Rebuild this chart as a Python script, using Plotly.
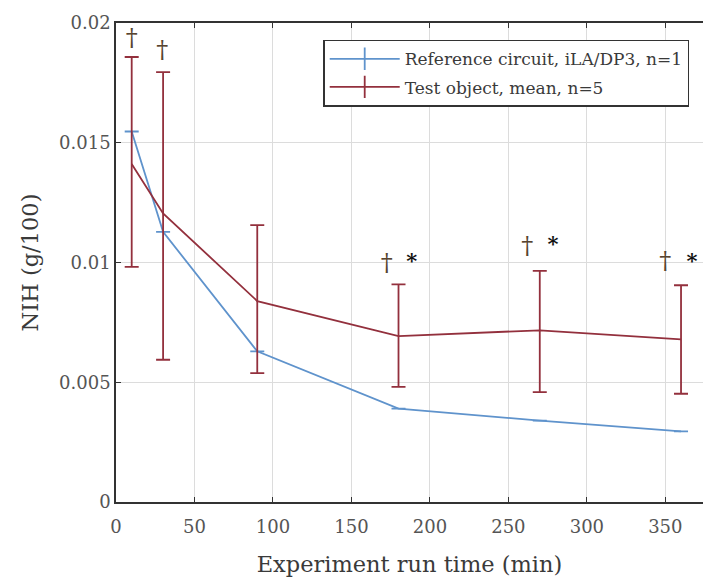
import plotly.graph_objects as go

# Reference circuit (n=1)
ref_x = [10, 30, 90, 180, 270, 360]
ref_y = [0.01547, 0.01128, 0.00629, 0.00390, 0.00340, 0.00295]

# Test object mean (n=5) with asymmetric error bars
test_x = [10, 30, 90, 180, 270, 360]
test_y = [0.01411, 0.01205, 0.00839, 0.00693, 0.00717, 0.00679]
test_upper = [0.01858, 0.01795, 0.01156, 0.00909, 0.00965, 0.00905]
test_lower = [0.00982, 0.00594, 0.00538, 0.00481, 0.00459, 0.00452]

# Significance markers
dagger_x = [10, 29.5, 172.5, 262, 350]
dagger_y = [0.0193, 0.0188, 0.0099, 0.0106, 0.0100]
star_x = [188.5, 278.5, 367]
star_y = [0.0100, 0.0107, 0.0100]

x_ticks = [0, 50, 100, 150, 200, 250, 300, 350]
y_ticks = [0, 0.005, 0.01, 0.015, 0.02]
y_tick_text = ["0", "0.005", "0.01", "0.015", "0.02"]

ref_name = "Reference circuit, iLA/DP3, n=1"
test_name = "Test object, mean, n=5"

BLUE = "#5f93cc"
RED = "#93303d"
FONT = "DejaVu Serif"

fig = go.Figure()

fig.add_trace(go.Scatter(
    x=ref_x, y=ref_y, mode="lines", showlegend=False,
    line=dict(color=BLUE, width=1.8),
    error_y=dict(type="data", array=[0]*len(ref_x), arrayminus=[0]*len(ref_x),
                 color=BLUE, thickness=1.8, width=7, visible=True),
))

fig.add_trace(go.Scatter(
    x=test_x, y=test_y, mode="lines", showlegend=False,
    line=dict(color=RED, width=1.8),
    error_y=dict(type="data",
                 array=[u - m for u, m in zip(test_upper, test_y)],
                 arrayminus=[m - l for m, l in zip(test_y, test_lower)],
                 color=RED, thickness=1.8, width=7, visible=True),
))

# legend entries (line with vertical error-bar glyph)
for i, (name, col) in enumerate([(ref_name, BLUE), (test_name, RED)]):
    fig.add_trace(go.Scatter(
        x=[None], y=[None], mode="lines+markers", name=name,
        legendgroup="g%d" % i,
        line=dict(color=col, width=1.8),
        marker=dict(symbol="line-ns-open", size=16,
                    line=dict(color=col, width=1.8)),
    ))

fig.add_trace(go.Scatter(
    x=dagger_x, y=dagger_y, mode="text", text=["†"]*len(dagger_x),
    textfont=dict(family=FONT, size=24, color="#574430"),
    showlegend=False, hoverinfo="skip",
))
fig.add_trace(go.Scatter(
    x=star_x, y=star_y, mode="text", text=["<b>*</b>"]*len(star_x),
    textfont=dict(family=FONT, size=21, color="#111111"),
    showlegend=False, hoverinfo="skip",
))

fig.update_layout(
    width=703, height=578,
    margin=dict(l=116, r=0, t=23, b=76),
    paper_bgcolor="white", plot_bgcolor="white",
    font=dict(family=FONT, size=18, color="#444444"),
    showlegend=True,
    legend=dict(
        x=0.353, y=0.965, xanchor="left", yanchor="top",
        bgcolor="white", bordercolor="#333333", borderwidth=1.5,
        font=dict(family=FONT, size=17, color="#3a3a3a"),
        tracegroupgap=3, itemwidth=70,
    ),
    xaxis=dict(
        range=[0, 374], tickvals=x_ticks,
        showgrid=True, gridcolor="#dcdcdc", gridwidth=1,
        showline=True, linecolor="#333333", linewidth=1.5,
        mirror="ticks", ticks="inside", ticklen=5, tickcolor="#333333",
        zeroline=False, ticklabelstandoff=8,
        title=dict(text="Experiment run time (min)", standoff=20,
                   font=dict(family=FONT, size=22.5, color="#3a3a3a")),
        tickfont=dict(family=FONT, size=18, color="#555555"),
    ),
    yaxis=dict(
        range=[0, 0.02], tickvals=y_ticks, ticktext=y_tick_text,
        showgrid=True, gridcolor="#dcdcdc", gridwidth=1,
        showline=True, linecolor="#333333", linewidth=1.5,
        ticks="inside", ticklen=5, tickcolor="#333333",
        zeroline=False,
        title=dict(text="NIH (g/100)", standoff=14,
                   font=dict(family=FONT, size=22.5, color="#3a3a3a")),
        tickfont=dict(family=FONT, size=18, color="#555555"),
    ),
)

fig.write_html("out.html")
